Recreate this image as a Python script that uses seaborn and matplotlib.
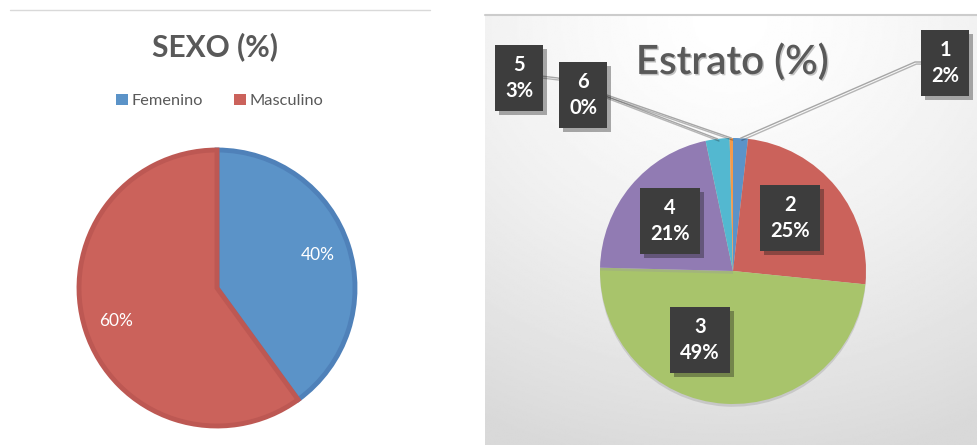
import numpy as np
import seaborn as sns
import matplotlib.pyplot as plt
import matplotlib.patheffects as pe

# data
sexo_labels = ["Femenino", "Masculino"]
sexo_values = [40, 60]
sexo_colors = ["#5B93C8", "#CB625B"]
sexo_edges = ["#4F81B9", "#BD5853"]

estrato_labels = ["1", "2", "3", "4", "5", "6"]
estrato_values = [1.8, 24.8, 48.8, 21.3, 2.9, 0.4]
estrato_colors = ["#5B93C8", "#CB625B", "#A8C46B", "#917BB3", "#53B8D0", "#F59A4A"]

sns.set_theme(style="white")
plt.rcParams["font.family"] = ["Lato", "DejaVu Sans"]

W, H = 978, 445
fig = plt.figure(figsize=(W / 100, H / 100), dpi=100)
ax = fig.add_axes([0, 0, 1, 1])


def py(y):
    # pixel row (from top) -> data y
    return H - y


# right panel background (radial gray gradient)
xs = np.linspace(485, W, 300)
ys = np.linspace(15, H, 260)
gx, gy = np.meshgrid(xs, ys)
d = np.sqrt((gx - 730) ** 2 + ((gy - 20) * 1.15) ** 2) / 520
bg = 1 - 0.15 * np.clip(d, 0, 1) ** 1.4
ax.imshow(bg, extent=(485, W, py(H), py(15)), origin="upper", cmap="gray",
          vmin=0, vmax=1, zorder=0, interpolation="bilinear")
ax.plot([485, W], [py(15), py(15)], color="#cccccc", lw=1.5, zorder=1)
ax.plot([10, 430], [py(10), py(10)], color="#d9d9d9", lw=1, zorder=1)

# ---- SEXO pie ----
wedges, _, autotexts = ax.pie(
    sexo_values, colors=sexo_colors, startangle=90, counterclock=False,
    center=(217, py(288)), radius=138, autopct="%.0f%%", pctdistance=0.77,
    textprops=dict(color="white", fontsize=12.5),
    wedgeprops=dict(linewidth=3.5, joinstyle="miter"))
for w, ec in zip(wedges, sexo_edges):
    w.set_edgecolor(ec)
    w.set_zorder(2)
for t in autotexts:
    t.set_zorder(3)

ax.text(215, py(47), "SEXO (%)", ha="center", va="center", fontsize=21.5,
        weight="bold", color="#595959")
leg = ax.legend(wedges, sexo_labels, loc="center", ncol=2, frameon=False,
                bbox_to_anchor=(220 / W, 1 - 101 / H), fontsize=11.8,
                labelcolor="#595959", handlelength=0.7, handleheight=0.7,
                handletextpad=0.25, columnspacing=1.9)
for h in leg.legend_handles:
    h.set_linewidth(0)

# ---- Estrato pie ----
cx, cy, r = 733, py(271), 133
ew, _ = ax.pie(estrato_values, colors=estrato_colors, startangle=90,
               counterclock=False, center=(cx, cy), radius=r,
               wedgeprops=dict(linewidth=0))
for w in ew:
    w.set_zorder(2)
    w.set_path_effects([pe.SimplePatchShadow(offset=(0, -2), shadow_rgbFace="#999999", alpha=0.35), pe.Normal()])

ax.text(732, py(62), "Estrato (%)", ha="center", va="center", fontsize=29,
        weight="semibold", color="#595959",
        path_effects=[pe.withSimplePatchShadow(offset=(1, -1), alpha=0.25)])

# label box positions (pixel coords), and elbow points for leader lines
label_pos = [(945, 63), (790, 218), (700, 340), (670, 221), (519, 78), (583, 95)]
elbows = {0: [(915, 62), (924, 62)], 4: [(558, 78), (541, 76)], 5: [(604, 94)]}

for i, (lab, val) in enumerate(zip(estrato_labels, estrato_values)):
    w = ew[i]
    x, y = label_pos[i]
    if i in elbows:
        mid = np.deg2rad((w.theta1 + w.theta2) / 2)
        pts = [(cx + r * np.cos(mid), cy + r * np.sin(mid))]
        pts += [(ex, py(ey)) for ex, ey in elbows[i]]
        px_, py_ = zip(*pts)
        ax.plot(px_, py_, color="#a6a6a6", lw=1, zorder=3,
                path_effects=[pe.SimpleLineShadow(offset=(1, -1.5), alpha=0.3), pe.Normal()])
    t = ax.text(x, py(y), f"{lab}\n{round(val):.0f}%", ha="center", va="center",
                fontsize=14.5, weight="bold", color="white", linespacing=1.4,
                zorder=5,
                bbox=dict(boxstyle="square,pad=0.5", facecolor="#3d3d3d",
                          edgecolor="none"))
    t.get_bbox_patch().set_path_effects(
        [pe.SimplePatchShadow(offset=(3, -3), alpha=0.35), pe.Normal()])

ax.set_xlim(0, W)
ax.set_ylim(0, H)
ax.set_aspect("equal")
ax.axis("off")

fig.savefig("out.png", dpi=100)
